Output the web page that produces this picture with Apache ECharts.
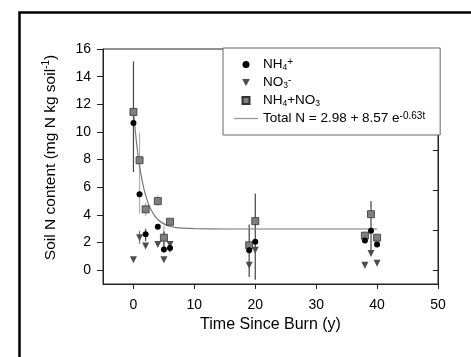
<!DOCTYPE html>
<html>
<head>
<meta charset="utf-8">
<script src="https://cdn.jsdelivr.net/npm/echarts@6/dist/echarts.min.js"></script>
<style>
html,body{margin:0;padding:0;background:#fff;}
#c{width:471px;height:357px;}
</style>
</head>
<body>
<div id="c"></div>
<script>
// ---- data ----
var years = [0, 1, 2, 4, 5, 6, 19, 20, 38, 39, 40];
var nh4   = [10.65, 5.5, 2.6, 3.15, 1.5, 1.6, 1.45, 2.05, 2.15, 2.85, 1.85];
var no3   = [0.75, 2.35, 1.75, 1.85, 0.75, 1.85, 0.35, 1.45, 0.35, 1.2, 0.5];
var total = [11.45, 7.95, 4.4, 5.0, 2.35, 3.5, 1.8, 3.55, 2.5, 4.05, 2.35];

// error bars: [year, low, high]
var nh4Err   = [[0, 7.1, 15.1], [2, 2.1, 3.0], [5, 1.3, 2.8], [6, 1.3, 1.9], [19, -0.5, 3.3], [20, -0.7, 5.55], [39, 1.25, 5.0]];
var no3Err   = [[1, 1.9, 2.85], [6, 1.6, 2.1]];
var totalErr = [[1, 4.1, 9.95], [2, 3.9, 4.9], [4, 4.65, 5.4], [5, 1.4, 3.2]];

// fitted curve Total N = 2.98 + 8.57 e^(-0.63t)
var fitT = [0, 0.5, 1, 1.5, 2, 2.5, 3, 3.5, 4, 5, 6, 7, 8, 10, 15, 20, 30, 40];
var fitN = [11.55, 9.23, 7.54, 6.31, 5.41, 4.75, 4.28, 3.93, 3.67, 3.35, 3.18, 3.08, 3.04, 3.0, 2.98, 2.98, 2.98, 2.98];

var xTicks = [0, 10, 20, 30, 40, 50];
var yTicks = [0, 2, 4, 6, 8, 10, 12, 14, 16];
var yRightTicks = [0, 2.9, 5.8, 8.7, 11.6, 14.5];

function pairs(xs, ys) { return xs.map(function (x, i) { return [x, ys[i]]; }); }

var FONT = 'Liberation Sans, Arial, sans-serif';

function errSeries(data, color) {
  return {
    type: 'custom',
    data: data,
    z: 1,
    silent: true,
    renderItem: function (params, api) {
      var p1 = api.coord([api.value(0), api.value(1)]);
      var p2 = api.coord([api.value(0), api.value(2)]);
      return {
        type: 'line',
        shape: { x1: p1[0], y1: p1[1], x2: p2[0], y2: p2[1] },
        style: { stroke: color, lineWidth: 1.2 }
      };
    },
    encode: { x: 0, y: [1, 2] }
  };
}

var chart = echarts.init(document.getElementById('c'), null, { renderer: 'canvas' });
chart.setOption({
  animation: false,
  backgroundColor: '#fff',
  textStyle: { fontFamily: FONT },
  graphic: [{
    type: 'rect', left: 17, top: 10,
    shape: { width: 480, height: 360 },
    style: { fill: 'none', stroke: '#000', lineWidth: 2.5 },
    silent: true
  }],
  grid: { left: 103, right: 33, top: 49, bottom: 73, show: true, borderColor: '#222', borderWidth: 1, backgroundColor: 'transparent' },
  xAxis: {
    type: 'value', min: -5, max: 50,
    name: 'Time Since Burn (y)', nameLocation: 'middle', nameGap: 32,
    nameTextStyle: { fontSize: 16, color: '#000', fontFamily: FONT },
    axisLine: { show: true, onZero: false, lineStyle: { color: '#222' } },
    axisTick: { show: true, length: 5, inside: false, customValues: xTicks, lineStyle: { color: '#222' } },
    axisLabel: { customValues: xTicks, color: '#000', fontSize: 14, margin: 14, fontFamily: FONT },
    splitLine: { show: false }
  },
  yAxis: [{
    type: 'value', min: -1, max: 16,
    name: 'Soil N content (mg N kg soil{sup|-1})', nameLocation: 'middle', nameGap: 43, nameRotate: 90,
    nameTextStyle: { fontSize: 15.5, color: '#000', fontFamily: FONT, lineHeight: 19, padding: [0, 0, 0, 18],
      rich: { sup: { fontSize: 10, lineHeight: 10, verticalAlign: 'top', fontFamily: FONT, color: '#000' } } },
    axisLine: { show: true, onZero: false, lineStyle: { color: '#222' } },
    axisTick: { show: true, length: 6, customValues: yTicks, lineStyle: { color: '#222' } },
    axisLabel: { customValues: yTicks, color: '#000', fontSize: 14, margin: 12, fontFamily: FONT },
    splitLine: { show: false }
  }, {
    type: 'value', min: -1, max: 16, position: 'right',
    axisLine: { show: true, onZero: false, lineStyle: { color: '#222' } },
    axisTick: { show: true, inside: true, length: 5, customValues: yRightTicks, lineStyle: { color: '#222' } },
    axisLabel: { show: false },
    splitLine: { show: false }
  }],
  legend: {
    data: [
      { name: 'NH4+', icon: 'path://M0,5a5,5 0 1,0 10,0a5,5 0 1,0 -10,0Z' },
      { name: 'NO3-', icon: 'path://M0,0L10,0L5,9Z' },
      { name: 'NH4+NO3', icon: 'path://M0,0H10V10H0Z' },
      { name: 'Total N', icon: 'path://M0,0H24V1.3H0Z' }
    ],
    orient: 'vertical',
    left: 223, top: 48,
    padding: [9, 15, 9, 11],
    itemWidth: 24, itemHeight: 7, itemGap: 3,
    symbolKeepAspect: true,
    backgroundColor: '#fff',
    borderColor: '#666', borderWidth: 1, borderRadius: 0,
    z: 10,
    formatter: function (n) {
      if (n === 'NH4+') return 'NH{sub|4}{sup|+}';
      if (n === 'NO3-') return 'NO{sub|3}{sup|-}';
      if (n === 'NH4+NO3') return 'NH{sub|4}+NO{sub|3}';
      return 'Total N = 2.98 + 8.57 e{sup|-0.63t}';
    },
    textStyle: {
      fontSize: 13.5, color: '#000', fontFamily: FONT, lineHeight: 15,
      rich: {
        sub: { fontSize: 8.5, lineHeight: 7, verticalAlign: 'bottom', color: '#000', fontFamily: FONT },
        sup: { fontSize: 10, lineHeight: 8, verticalAlign: 'top', color: '#000', fontFamily: FONT }
      }
    }
  },
  series: [
    errSeries(totalErr, '#b0b0b0'),
    errSeries(no3Err, '#777'),
    errSeries(nh4Err, '#444'),
    {
      name: 'Total N', type: 'line', data: pairs(fitT, fitN), symbol: 'none', smooth: 0.3,
      lineStyle: { color: '#777', width: 1.2 }, itemStyle: { color: '#999' }, z: 2
    },
    {
      name: 'NH4+NO3', type: 'scatter', data: pairs(years, total), symbol: 'rect', symbolSize: 7,
      itemStyle: { color: '#7f7f7f', borderColor: '#333', borderWidth: 0.8, opacity: 1 }, z: 3
    },
    {
      name: 'NO3-', type: 'scatter', data: pairs(years, no3), symbol: 'triangle', symbolRotate: 180, symbolSize: 7,
      itemStyle: { color: '#4d4d4d', opacity: 1 }, z: 4
    },
    {
      name: 'NH4+', type: 'scatter', data: pairs(years, nh4), symbol: 'circle', symbolSize: 6,
      itemStyle: { color: '#000', opacity: 1 }, z: 5
    }
  ]
});
</script>
</body>
</html>
